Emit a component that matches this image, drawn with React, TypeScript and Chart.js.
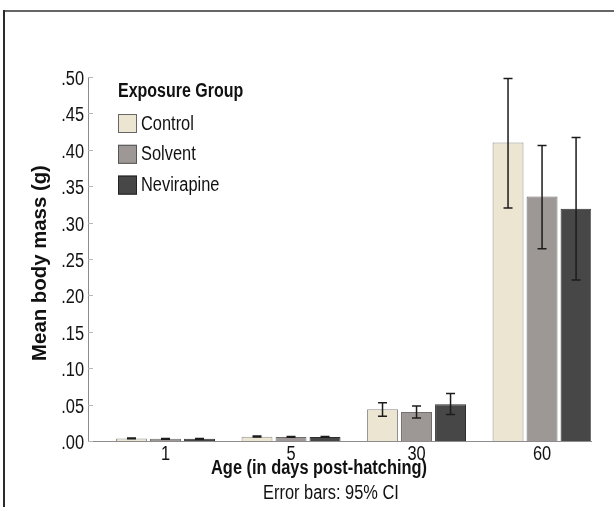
import React, { useEffect, useRef } from "react";
import { Chart, registerables } from "chart.js";

Chart.register(...registerables);

const categories = ["1", "5", "30", "60"];
const seriesNames = ["Control", "Solvent", "Nevirapine"];
const controlMeans = [0.0035, 0.006, 0.0435, 0.41];
const solventMeans = [0.003, 0.0055, 0.04, 0.336];
const nevirapineMeans = [0.003, 0.0055, 0.0505, 0.319];
const controlLow = [0.003, 0.0055, 0.034, 0.32];
const controlHigh = [0.004, 0.0068, 0.0527, 0.498];
const solventLow = [0.0025, 0.005, 0.0316, 0.264];
const solventHigh = [0.0035, 0.0062, 0.0481, 0.406];
const nevirapineLow = [0.0025, 0.005, 0.0363, 0.221];
const nevirapineHigh = [0.0035, 0.0062, 0.0651, 0.417];
const yTicks = [0, 0.05, 0.1, 0.15, 0.2, 0.25, 0.3, 0.35, 0.4, 0.45, 0.5];

const fillColors = ["#ebe5d2", "#9d9895", "#474747"];
const borderColors = ["#8f8f8f", "#6f6c6a", "#2e2e2e"];
const legendBorders = ["#666666", "#555555", "#222222"];

const FONT = "'Liberation Sans', Arial, sans-serif";
const NARROW = 0.82;

const lows = [controlLow, solventLow, nevirapineLow];
const highs = [controlHigh, solventHigh, nevirapineHigh];

function drawText(
  ctx: CanvasRenderingContext2D,
  text: string,
  x: number,
  y: number,
  size: number,
  bold: boolean,
  align: CanvasTextAlign,
  sx: number = NARROW
) {
  ctx.save();
  ctx.translate(x, y);
  ctx.scale(sx, 1);
  ctx.font = (bold ? "bold " : "") + size + "px " + FONT;
  ctx.textAlign = align;
  ctx.textBaseline = "alphabetic";
  ctx.fillStyle = "#111111";
  ctx.fillText(text, 0, 0);
  ctx.restore();
}

const extrasPlugin = {
  id: "extras",
  beforeDraw(chart: any) {
    const ctx = chart.ctx;
    ctx.save();
    ctx.fillStyle = "#ffffff";
    ctx.fillRect(0, 0, chart.width, chart.height);
    ctx.fillStyle = "#666666";
    ctx.fillRect(3, 10, chart.width - 3, 2);
    ctx.fillStyle = "#2a2a2a";
    ctx.fillRect(3, 10, 2, chart.height - 10);
    ctx.restore();
  },
  afterDraw(chart: any) {
    const ctx = chart.ctx;
    const y = chart.scales.y;
    const x = chart.scales.x;
    const area = chart.chartArea;
    ctx.save();
    // inward y tick marks and y tick labels
    ctx.strokeStyle = "#b5b5b5";
    ctx.lineWidth = 1;
    yTicks.forEach((t) => {
      const py = Math.round(y.getPixelForValue(t)) + 0.5;
      ctx.beginPath();
      ctx.moveTo(area.left, py);
      ctx.lineTo(area.left + 5, py);
      ctx.stroke();
      drawText(ctx, t.toFixed(2).replace(/^0/, ""), area.left - 4, py + 7.5, 20, false, "right");
    });
    // x tick labels
    categories.forEach((c, i) => {
      drawText(ctx, c, x.getPixelForValue(i), area.bottom + 19, 20, false, "center");
    });
    // error bars
    ctx.strokeStyle = "#1c1c1c";
    ctx.lineWidth = 1.5;
    for (let d = 0; d < 3; d++) {
      const meta = chart.getDatasetMeta(d);
      meta.data.forEach((bar: any, i: number) => {
        const bx = bar.x;
        const yl = y.getPixelForValue(lows[d][i]);
        const yh = y.getPixelForValue(highs[d][i]);
        const cap = 4.5;
        ctx.beginPath();
        ctx.moveTo(bx, yl);
        ctx.lineTo(bx, yh);
        ctx.moveTo(bx - cap, yh);
        ctx.lineTo(bx + cap, yh);
        ctx.moveTo(bx - cap, yl);
        ctx.lineTo(bx + cap, yl);
        ctx.stroke();
      });
    }
    // legend
    drawText(ctx, "Exposure Group", 118, 97, 19.5, true, "left");
    seriesNames.forEach((name, i) => {
      const top = 114 + i * 30.8;
      ctx.fillStyle = fillColors[i];
      ctx.fillRect(118, top, 19, 19);
      ctx.strokeStyle = legendBorders[i];
      ctx.lineWidth = 1;
      ctx.strokeRect(118.5, top + 0.5, 18, 18);
      drawText(ctx, name, 141, top + 15.5, 20, false, "left");
    });
    // axis titles
    drawText(ctx, "Age (in days post-hatching)", 319, 474, 20, true, "center");
    drawText(ctx, "Error bars: 95% CI", 331, 499, 20, false, "center");
    ctx.save();
    ctx.translate(46, 263);
    ctx.rotate(-Math.PI / 2);
    drawText(ctx, "Mean body mass (g)", 0, 0, 21, true, "center", 0.97);
    ctx.restore();
    ctx.restore();
  },
};

export default function App() {
  const ref = useRef<HTMLCanvasElement | null>(null);
  useEffect(() => {
    if (!ref.current) return;
    const means = [controlMeans, solventMeans, nevirapineMeans];
    const chart = new Chart(ref.current, {
      type: "bar",
      data: {
        datasets: seriesNames.map((name, d) => ({
          label: name,
          data: means[d].map((v, i) => ({ x: i, y: v })),
          backgroundColor: fillColors[d],
          borderColor: borderColors[d],
          borderWidth: 1,
          categoryPercentage: 0.813,
          barPercentage: 0.91,
        })),
      },
      options: {
        responsive: false,
        animation: false,
        layout: { padding: { top: 77, right: 23, left: 0, bottom: 0 } },
        plugins: {
          legend: { display: false },
          tooltip: { enabled: false },
          title: { display: false },
        },
        scales: {
          x: {
            type: "linear",
            offset: false,
            min: -0.6175,
            max: 3.39,
            afterBuildTicks: (s: any) => {
              s.ticks = categories.map((_, i) => ({ value: i }));
            },
            afterFit: (s: any) => {
              s.height = 66;
            },
            grid: { display: false, drawTicks: false, offset: false },
            border: { display: true, color: "#8c8c8c", width: 1 },
            ticks: { display: false },
          },
          y: {
            min: 0,
            max: 0.5,
            afterBuildTicks: (s: any) => {
              s.ticks = yTicks.map((v) => ({ value: v }));
            },
            afterFit: (s: any) => {
              s.width = 88;
            },
            grid: { display: false, drawTicks: false },
            border: { display: true, color: "#8c8c8c", width: 1 },
            ticks: { display: false },
          },
        },
      },
      plugins: [extrasPlugin],
    } as any);
    return () => chart.destroy();
  }, []);
  return (
    <div style={{ position: "absolute", left: 0, top: 0, width: 614, height: 507 }}>
      <canvas ref={ref} width={614} height={507} style={{ display: "block" }} />
    </div>
  );
}
